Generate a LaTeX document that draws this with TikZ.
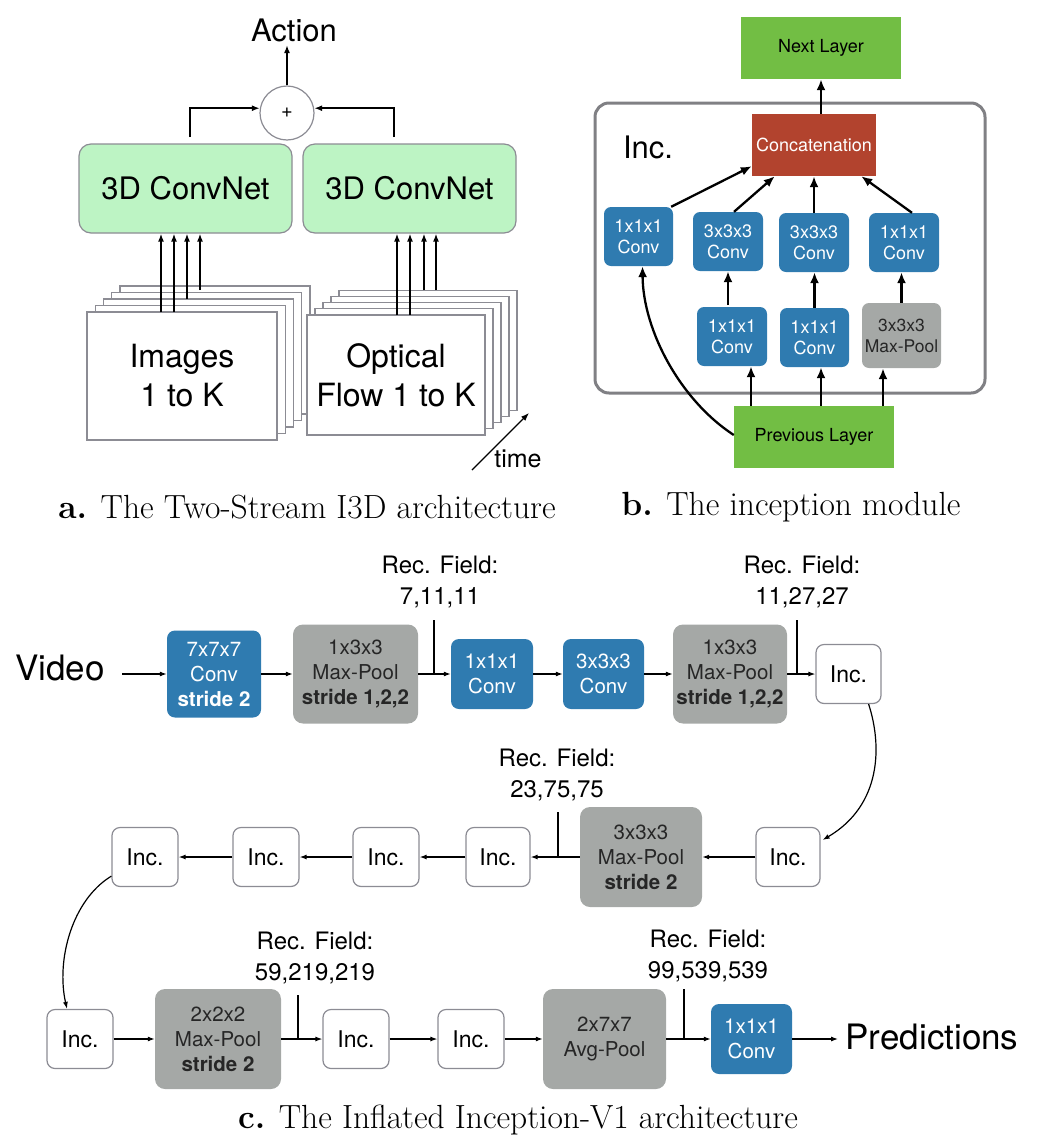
\documentclass[tikz,border=0pt]{standalone}
\usepackage{fontspec}
\setsansfont{TeX Gyre Heros}
\usetikzlibrary{arrows.meta,calc}
\definecolor{cnetgreen}{RGB}{189,244,196}
\definecolor{laygreen}{RGB}{114,190,68}
\definecolor{concatred}{RGB}{178,67,46}
\definecolor{convblue}{RGB}{47,123,176}
\definecolor{poolgray}{RGB}{165,168,166}
\definecolor{edgegray}{RGB}{140,140,148}
\definecolor{incgray}{RGB}{128,128,132}
\tikzset{
 convnet/.style={draw=edgegray, line width=1.2pt, fill=cnetgreen, rounded corners=12pt, minimum width=213pt, minimum height=89pt, font=\sffamily\fontsize{31}{36}\selectfont},
 sheet/.style={draw=edgegray, line width=1.2pt, fill=white},
 bigtext/.style={font=\sffamily\fontsize{32}{39}\selectfont},
 tipa/.style={-{Latex[length=8pt,width=6pt]}, line width=1.5pt},
 laybox/.style={fill=laygreen, minimum width=160pt, minimum height=62pt, inner sep=0pt, font=\sffamily\fontsize{18}{22}\selectfont},
 bbox/.style={fill=convblue, text=white, rounded corners=7pt, align=center, inner sep=0pt, font=\sffamily\fontsize{18}{21}\selectfont},
 gbox/.style={fill=poolgray, text=black!85, rounded corners=7pt, align=center, inner sep=0pt, font=\sffamily\fontsize{17.5}{21}\selectfont},
 tipb/.style={-{Latex[length=11pt,width=9pt]}, line width=2.3pt},
 cblue/.style={fill=convblue, text=white, rounded corners=8pt, align=center, inner sep=0pt, font=\sffamily\fontsize{20.5}{25}\selectfont},
 cgray/.style={fill=poolgray, text=black!85, rounded corners=10pt, align=center, inner sep=0pt, font=\sffamily\fontsize{20.5}{25}\selectfont},
 cinc/.style={draw=edgegray, line width=1.2pt, fill=white, rounded corners=8pt, minimum width=65pt, minimum height=59pt, inner sep=0pt, font=\sffamily\fontsize{23}{28}\selectfont},
 tipc/.style={-{Latex[length=7pt,width=5pt]}, line width=1.2pt},
 recf/.style={align=center, font=\sffamily\fontsize{24}{31}\selectfont},
 capt/.style={font=\rmfamily\fontsize{33.5}{40}\selectfont},
 huge/.style={font=\sffamily\fontsize{35}{42}\selectfont},
}
\begin{document}
\begin{tikzpicture}[x=1pt,y=-1pt]
\useasboundingbox (0,0) rectangle (1037,1138);

% ---------------- panel a ----------------
\node[font=\sffamily\fontsize{31}{36}\selectfont] (action) at (294,30) {Action};
\node[circle, draw=edgegray, line width=1.2pt, fill=white, minimum size=54pt, inner sep=0pt, font=\sffamily\fontsize{20}{24}\selectfont] (plus) at (287,113) {+};
\draw[tipa] (plus.north) -- (plus.north |- action.south);
\node[convnet] (cnA) at (185.5,188.5) {3D ConvNet};
\node[convnet] (cnB) at (409.5,188.5) {3D ConvNet};
\coordinate (loA) at (190,137);
\coordinate (loB) at (394,137);
\draw[tipa] (loA) |- (plus.170);
\draw[tipa] (loB) |- (plus.10);

\foreach \k in {4,3,2,1}
  \draw[sheet] ({87+8.25*\k},{312-6.5*\k}) rectangle +(190,128);
\node[sheet, bigtext, align=center, minimum width=190pt, minimum height=128pt, inner sep=0pt] (imgs) at (182,376) {Images\\1 to K};
\foreach \k in {4,3,2,1}
  \draw[sheet] ({307+8*\k},{315-6.2*\k}) rectangle +(178,120);
\node[sheet, bigtext, align=center, minimum width=178pt, minimum height=120pt, inner sep=0pt] (flow) at (396,375) {Optical\\Flow 1 to K};

\coordinate (ia1) at (161,312); \coordinate (ia2) at (174,312);
\coordinate (ia3) at (187,299); \coordinate (ia4) at (200,290);
\coordinate (fa1) at (397,315); \coordinate (fa2) at (410,315);
\coordinate (fa3) at (424,290); \coordinate (fa4) at (436,290);
\foreach \c in {ia1,ia2,ia3,ia4} \draw[tipa] (\c) -- (\c |- cnA.south);
\foreach \c in {fa1,fa2,fa3,fa4} \draw[tipa] (\c) -- (\c |- cnB.south);

\coordinate (t0) at (472,470); \coordinate (t1) at (529,413);
\draw[-{Latex[length=8pt,width=6pt]}, line width=1.3pt] (t0) -- (t1);
\node[font=\sffamily\fontsize{25}{30}\selectfont] (time) at (518,459) {time};

\node[capt] (capa) at (307,507) {\textbf{a.} The Two-Stream I3D architecture};

% ---------------- panel b ----------------
\node[laybox] (next) at (821,48) {Next Layer};
\draw[draw=incgray, line width=3pt, rounded corners=14pt] (595,103) rectangle (985,393);
\node[font=\sffamily\fontsize{31}{36}\selectfont] (inclab) at (648,147) {Inc.};
\node[fill=concatred, text=white, minimum width=124pt, minimum height=62pt, inner sep=0pt, font=\sffamily\fontsize{18}{22}\selectfont] (concat) at (814,145) {Concatenation};
\node[bbox, minimum width=69pt, minimum height=59pt] (A) at (638.5,236.5) {1x1x1\\Conv};
\node[bbox, minimum width=70pt, minimum height=59pt] (B) at (728,241.5) {3x3x3\\Conv};
\node[bbox, minimum width=70pt, minimum height=59pt] (C) at (814,242.5) {3x3x3\\Conv};
\node[bbox, minimum width=70pt, minimum height=59pt] (D) at (904,242.5) {1x1x1\\Conv};
\node[bbox, minimum width=70pt, minimum height=59pt] (E) at (732,336.5) {1x1x1\\Conv};
\node[bbox, minimum width=69pt, minimum height=59pt] (F) at (814.5,337.5) {1x1x1\\Conv};
\node[gbox, minimum width=79pt, minimum height=65pt] (G) at (901.5,335.5) {3x3x3\\Max-Pool};
\node[laybox] (prev) at (814,437) {Previous Layer};

\draw[tipb] (next.south |- concat.north) -- (next.south);
\draw[tipb] ($(A.north east)+(-2,0)$) -- ($(concat.south west)+(0,-10)$);
\draw[tipb] ($(B.north)+(6,0)$) -- ($(concat.south west)+(23,0)$);
\draw[tipb] (C.north) -- (concat.south);
\draw[tipb] ($(D.north)+(8,0)$) -- ($(concat.south east)+(-15,0)$);
\coordinate (eb) at (728,305);
\draw[tipb] (eb) -- (eb |- B.south);
\draw[tipb] (F.north) -- (F.north |- C.south);
\draw[tipb] (G.north) -- (G.north |- D.south);
\coordinate (pe) at (751,406); \coordinate (pf) at (821,406); \coordinate (pg) at (883,406);
\draw[tipb] (pe) -- (pe |- E.south);
\draw[tipb] (pf) -- (pf |- F.south);
\draw[tipb] (pg) -- (pg |- G.south);
\draw[tipb] ($(prev.west)+(0,-2)$) .. controls (680,400) and (643,330) .. ($(A.south)+(4,0)$);

\node[capt] (capb) at (791,507) {\textbf{b.} The inception module};

% ---------------- panel c ----------------
% row 1
\node[huge] (video) at (60,668) {Video};
\node[cblue, minimum width=94pt, minimum height=87pt] (b1) at (214,674) {7x7x7\\Conv\\\textbf{stride 2}};
\node[cgray, minimum width=125pt, minimum height=99pt] (b2) at (355.5,674) {1x3x3\\Max-Pool\\\textbf{stride 1,2,2}};
\node[cblue, minimum width=82pt, minimum height=70pt] (b3) at (492,674) {1x1x1\\Conv};
\node[cblue, minimum width=81pt, minimum height=70pt] (b4) at (603.5,674) {3x3x3\\Conv};
\node[cgray, minimum width=114pt, minimum height=99pt] (b5) at (730,674) {1x3x3\\Max-Pool\\\textbf{stride 1,2,2}};
\node[cinc] (i1) at (848.5,674) {Inc.};
\draw[tipc] ($(video.east |- b1.west)+(14,0)$) -- (b1.west);
\draw[tipc] (b1) -- (b2);
\draw[tipc] (b2) -- (b3);
\draw[tipc] (b3) -- (b4);
\draw[tipc] (b4) -- (b5);
\draw[tipc] (b5) -- (i1);
\node[recf] (rf1) at (440,582.5) {Rec. Field:\\7,11,11};
\node[recf] (rf2) at (802,582.5) {Rec. Field:\\11,27,27};
\coordinate (r1) at (434,620); \draw[line width=1.2pt] (r1) -- (r1 |- b2.east);
\coordinate (r2) at (797,620); \draw[line width=1.2pt] (r2) -- (r2 |- b5.east);

% row 2
\node[cinc, minimum width=64pt] (i2) at (788,857) {Inc.};
\node[cgray, minimum width=122pt, minimum height=100pt] (m3) at (641,857) {3x3x3\\Max-Pool\\\textbf{stride 2}};
\node[cinc, minimum width=64pt] (i3) at (498,857) {Inc.};
\node[cinc, minimum width=66pt] (i4) at (386,857) {Inc.};
\node[cinc, minimum width=66pt] (i5) at (266,857) {Inc.};
\node[cinc, minimum width=66pt] (i6) at (145,857) {Inc.};
\draw[tipc] ($(i1.south east)+(-13,0)$) .. controls (882,745) and (882,805) .. ($(i2.east)+(2,-17)$);
\draw[tipc] (i2) -- (m3);
\draw[tipc] (m3) -- (i3);
\draw[tipc] (i3) -- (i4);
\draw[tipc] (i4) -- (i5);
\draw[tipc] (i5) -- (i6);
\node[recf] (rf3) at (557,775.5) {Rec. Field:\\23,75,75};
\coordinate (r3) at (558,812); \draw[line width=1.2pt] (r3) -- (r3 |- m3.west);

% row 3
\node[cinc, minimum width=66pt] (i7) at (80,1039) {Inc.};
\node[cgray, minimum width=126pt, minimum height=100pt] (m4) at (218,1039) {2x2x2\\Max-Pool\\\textbf{stride 2}};
\node[cinc, minimum width=66pt] (i8) at (356,1039) {Inc.};
\node[cinc, minimum width=66pt] (i9) at (471,1039) {Inc.};
\node[cgray, minimum width=123pt, minimum height=100pt] (avg) at (604.5,1039) {2x7x7\\Avg-Pool};
\node[cblue, minimum width=81pt, minimum height=70pt] (c9) at (751.5,1039) {1x1x1\\Conv};
\node[huge] (pred) at (932,1037) {Predictions};
\draw[tipc] ($(i6.south west)+(0,-11)$) .. controls (72,900) and (56,960) .. ($(i7.north)+(-13,0)$);
\draw[tipc] (i7) -- (m4);
\draw[tipc] (m4) -- (i8);
\draw[tipc] (i8) -- (i9);
\draw[tipc] (i9) -- (avg);
\draw[tipc] (avg) -- (c9);
\draw[tipc] (c9.east) -- ($(c9.east -| pred.west)+(-4,0)$);
\node[recf] (rf4) at (315,958) {Rec. Field:\\59,219,219};
\node[recf] (rf5) at (708,956.5) {Rec. Field:\\99,539,539};
\coordinate (r4) at (298,995); \draw[line width=1.2pt] (r4) -- (r4 |- m4.east);
\coordinate (r5) at (684,989); \draw[line width=1.2pt] (r5) -- (r5 |- avg.east);

\node[capt] (capc) at (518,1120) {\textbf{c.} The Inflated Inception-V1 architecture};
\end{tikzpicture}
\end{document}
